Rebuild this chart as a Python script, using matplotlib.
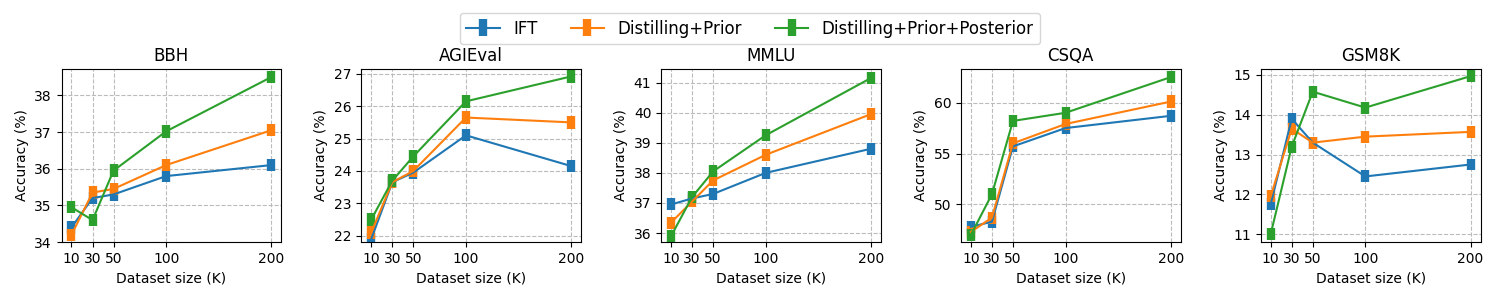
import matplotlib
matplotlib.use("Agg")
import matplotlib.pyplot as plt

# データ
sizes = [10, 30, 50, 100, 200]
methods = ["IFT", "Distilling+Prior", "Distilling+Prior+Posterior"]
colors = ["#1f77b4", "#ff7f0e", "#2ca02c"]
tasks = ["BBH", "AGIEval", "MMLU", "CSQA", "GSM8K"]

bbh_ift = [34.4, 35.2, 35.3, 35.8, 36.1]
bbh_prior = [34.2, 35.35, 35.45, 36.1, 37.05]
bbh_post = [34.95, 34.6, 35.95, 37.02, 38.5]

agi_ift = [21.9, 23.65, 23.95, 25.1, 24.15]
agi_prior = [22.1, 23.65, 24.0, 25.65, 25.5]
agi_post = [22.5, 23.7, 24.45, 26.15, 26.92]

mmlu_ift = [36.95, 37.15, 37.3, 38.0, 38.8]
mmlu_prior = [36.35, 37.05, 37.75, 38.6, 39.95]
mmlu_post = [35.9, 37.2, 38.05, 39.25, 41.15]

csqa_ift = [47.8, 48.3, 55.7, 57.5, 58.7]
csqa_prior = [47.3, 48.7, 56.0, 57.9, 60.1]
csqa_post = [47.0, 51.0, 58.2, 59.0, 62.5]

gsm_ift = [11.75, 13.9, 13.3, 12.45, 12.75]
gsm_prior = [11.95, 13.65, 13.3, 13.45, 13.57]
gsm_post = [11.0, 13.2, 14.58, 14.18, 14.97]

# 誤差（ほぼ一定）
errs = [0.17, 0.19, 0.2, 0.6, 0.15]

results = [
    [bbh_ift, bbh_prior, bbh_post],
    [agi_ift, agi_prior, agi_post],
    [mmlu_ift, mmlu_prior, mmlu_post],
    [csqa_ift, csqa_prior, csqa_post],
    [gsm_ift, gsm_prior, gsm_post],
]
ylims = [(34.0, 38.72), (21.8, 27.15), (35.7, 41.45), (46.3, 63.3), (10.8, 15.15)]

fig, axes = plt.subplots(1, 5, figsize=(15, 3), dpi=100)
plt.subplots_adjust(left=0.041, right=0.987, bottom=0.193, top=0.77, wspace=0.364)

for ax, task, res, err, yl in zip(axes, tasks, results, errs, ylims):
    for vals, name, c in zip(res, methods, colors):
        ax.errorbar(sizes, vals, yerr=err, color=c, label=name,
                    linewidth=1.5, elinewidth=6, capsize=0)
    ax.set_title(task, fontsize=12)
    ax.set_xticks(sizes)
    ax.set_xlabel("Dataset size (K)")
    ax.set_ylabel("Accuracy (%)")
    ax.set_ylim(*yl)
    ax.grid(True, linestyle="--", color="#bbbbbb")
    ax.tick_params(labelsize=10)

handles, labels = axes[0].get_legend_handles_labels()
fig.legend(handles, labels, loc="upper center", ncol=3, fontsize=12,
           bbox_to_anchor=(0.5, 0.985))

plt.savefig("out.png")
